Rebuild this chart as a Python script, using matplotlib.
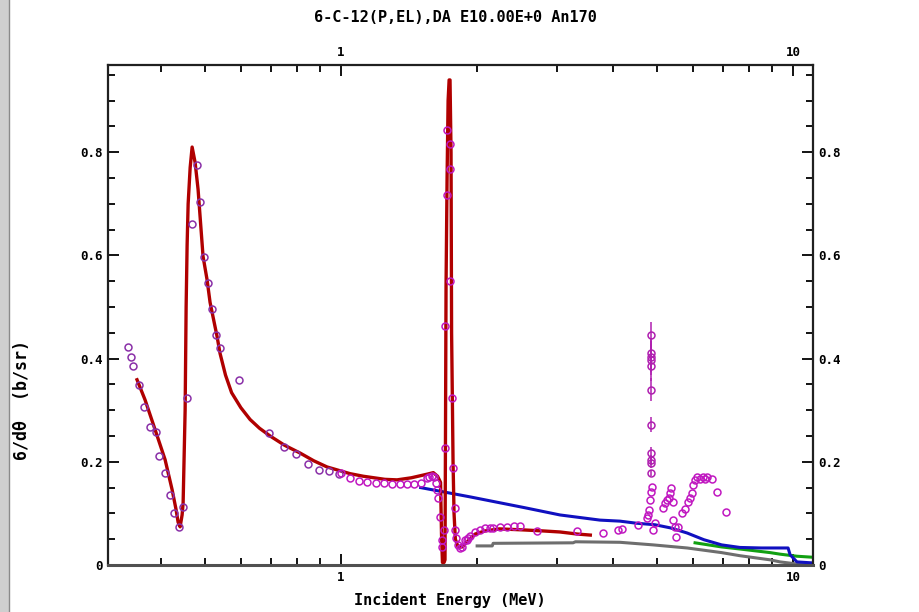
import matplotlib
matplotlib.use("Agg")
import matplotlib.pyplot as plt
from matplotlib.ticker import LogLocator, MultipleLocator, FuncFormatter, NullFormatter
from matplotlib.patches import Rectangle

# evaluated curves (energy in MeV, cross section b/sr)
red_e = [0.3536, 0.3684, 0.3878, 0.408, 0.4228, 0.4315, 0.4359, 0.4404, 0.4449, 0.4472,
         0.4518, 0.4541, 0.4564, 0.4588, 0.4635, 0.4682, 0.4754, 0.4826, 0.490, 0.495,
         0.5052, 0.513, 0.5316, 0.5398, 0.555, 0.5725, 0.60, 0.629, 0.66, 0.6966, 0.75,
         0.8114, 0.87, 0.931, 1.047,
         1.12, 1.25, 1.33, 1.43, 1.55, 1.60, 1.635, 1.660, 1.668, 1.676, 1.690, 1.698,
         1.703, 1.707, 1.716, 1.725, 1.734, 1.742, 1.751, 1.756, 1.764, 1.769, 1.778,
         1.790, 1.815, 1.853, 1.90, 1.98, 2.08, 2.24, 2.53, 2.8, 3.05, 3.33, 3.56]
red_y = [0.359, 0.320, 0.262, 0.204, 0.146, 0.107, 0.083, 0.074, 0.097, 0.120,
         0.300, 0.500, 0.620, 0.700, 0.770, 0.810, 0.780, 0.728, 0.650, 0.598,
         0.553, 0.509, 0.443, 0.410, 0.368, 0.334, 0.305, 0.282, 0.265, 0.250, 0.232,
         0.217, 0.202, 0.190, 0.177,
         0.172, 0.166, 0.165, 0.169, 0.176, 0.179, 0.172, 0.160, 0.060, 0.005, 0.005, 0.010,
         0.300, 0.540, 0.750, 0.900, 0.940, 0.940, 0.800, 0.450, 0.300, 0.200, 0.100,
         0.050, 0.035, 0.035, 0.045, 0.060, 0.066, 0.070, 0.068, 0.066, 0.064, 0.060, 0.058]

blue_e = [1.50, 1.93, 2.55, 3.05, 3.74, 4.14, 4.5, 4.95, 5.35, 5.83, 6.35, 6.95, 7.63,
          8.5, 9.2, 9.75, 9.85, 10.2, 11.07]
blue_y = [0.150, 0.132, 0.111, 0.097, 0.087, 0.085, 0.081, 0.078, 0.072, 0.062, 0.049,
          0.039, 0.034, 0.033, 0.033, 0.033, 0.020, 0.006, 0.004]

gray_e = [2.00, 2.16, 2.17, 3.26, 3.30, 4.14, 4.9, 5.83, 6.95, 7.63, 8.9, 9.36, 10.2, 11.07]
gray_y = [0.037, 0.037, 0.042, 0.043, 0.045, 0.044, 0.039, 0.033, 0.024, 0.018, 0.010,
          0.006, 0.002, 0.000]

green_e = [6.07, 6.95, 7.63, 8.9, 9.36, 10.2, 11.07]
green_y = [0.043, 0.035, 0.031, 0.024, 0.021, 0.017, 0.015]

# experimental points
low_e = [0.338, 0.343, 0.3465, 0.3573, 0.3665, 0.378, 0.3898, 0.3958, 0.408, 0.4185,
         0.4271, 0.4382, 0.4472, 0.4564, 0.4682, 0.480, 0.4876, 0.4976, 0.5078, 0.518,
         0.529, 0.5398, 0.5944, 0.6929, 0.748, 0.7949, 0.8453, 0.8939, 0.9407, 0.990]
low_y = [0.423, 0.404, 0.386, 0.348, 0.307, 0.268, 0.258, 0.212, 0.179, 0.136,
         0.101, 0.074, 0.113, 0.324, 0.660, 0.775, 0.703, 0.596, 0.546, 0.497,
         0.445, 0.421, 0.359, 0.256, 0.229, 0.216, 0.196, 0.184, 0.183, 0.177]

high_e = [1.0, 1.047, 1.096, 1.142, 1.195, 1.245, 1.297, 1.35, 1.399, 1.45, 1.503,
          1.549, 1.565, 1.589, 1.606, 1.623, 1.631, 1.639, 1.656, 1.690, 1.673, 1.673,
          1.716, 1.742, 1.742, 1.716, 1.742, 1.698, 1.76, 1.698, 1.769,
          1.787, 1.787, 1.796, 1.815, 1.853, 1.881, 1.91,
          1.834, 1.90, 1.93, 1.979, 2.03, 2.083, 2.137, 2.17, 2.248, 2.329, 2.41, 2.489,
          2.714, 3.328, 3.798, 4.102, 4.185, 4.541,
          4.753, 4.777, 4.80, 4.827, 4.851, 4.876, 4.90, 4.95,
          5.157, 5.21, 5.263, 5.317, 5.344, 5.372, 5.427, 5.427, 5.483, 5.511, 5.568,
          5.681, 5.768, 5.857, 5.917, 5.977, 6.008, 6.070, 6.132, 6.226, 6.323, 6.387,
          6.452, 6.619, 6.790, 7.108]
high_y = [0.179, 0.169, 0.163, 0.161, 0.159, 0.159, 0.157, 0.157, 0.157, 0.157, 0.159,
          0.169, 0.171, 0.173, 0.171, 0.159, 0.146, 0.130, 0.093, 0.068, 0.049, 0.035,
          0.843, 0.816, 0.767, 0.718, 0.551, 0.464, 0.324, 0.227, 0.188,
          0.111, 0.068, 0.052, 0.039, 0.035, 0.049, 0.052,
          0.033, 0.049, 0.056, 0.064, 0.068, 0.072, 0.072, 0.072, 0.074, 0.074, 0.075, 0.076,
          0.066, 0.066, 0.062, 0.068, 0.070, 0.078,
          0.091, 0.097, 0.107, 0.126, 0.142, 0.151, 0.068, 0.082,
          0.111, 0.120, 0.126, 0.130, 0.140, 0.150, 0.122, 0.087, 0.074, 0.054, 0.074,
          0.101, 0.109, 0.122, 0.130, 0.140, 0.155, 0.165, 0.171, 0.167, 0.171, 0.167,
          0.171, 0.167, 0.142, 0.103]

# column with error bars near 4.85 MeV
col_e = [4.851, 4.851, 4.851, 4.851, 4.851, 4.851, 4.851, 4.851, 4.851, 4.851, 4.851]
col_y = [0.445, 0.410, 0.404, 0.398, 0.386, 0.340, 0.272, 0.217, 0.204, 0.198, 0.179]
col_err = [0.025, 0.030, 0.030, 0.030, 0.030, 0.022, 0.015, 0.012, 0.010, 0.010, 0.006]

plt.rcParams['font.family'] = ['DejaVu Sans Mono', 'DejaVu Sans']
plt.rcParams['font.weight'] = 'bold'

fig = plt.figure(figsize=(9.2, 6.12), dpi=100)
fig.patch.set_facecolor('white')
ax = fig.add_axes([108 / 920, 47 / 612, 705 / 920, 500 / 612])

# window frame strip on the left
fig.patches.append(Rectangle((0, 0), 9 / 920, 1, transform=fig.transFigure,
                             facecolor='#cfcfcf', edgecolor='none'))
fig.lines.append(plt.Line2D([9 / 920, 9 / 920], [0, 1], transform=fig.transFigure,
                            color='#8a8a8a', lw=1))

ax.plot(gray_e, gray_y, color='#6e6e6e', lw=2.2, zorder=2)
ax.plot(green_e, green_y, color='#12a012', lw=2.2, zorder=2)
ax.plot(blue_e, blue_y, color='#1010c0', lw=2.2, zorder=2)
ax.plot(red_e, red_y, color='#b00000', lw=2.4, zorder=3)

ax.errorbar(col_e, col_y, yerr=col_err, fmt='o', ms=5, mfc='none', mec='#b020b0',
            mew=1.1, ecolor='#b020b0', elinewidth=1.1, capsize=0, zorder=4)
ax.plot(low_e, low_y, 'o', ms=5, mfc='none', mec='#8a30a8', mew=1.1, zorder=4)
ax.plot(high_e, high_y, 'o', ms=5, mfc='none', mec='#c018c0', mew=1.1, zorder=4)

ax.set_xscale('log')
ax.set_xlim(0.305, 11.07)
ax.set_ylim(0, 0.969)

ax.xaxis.set_major_locator(LogLocator(base=10))
ax.xaxis.set_minor_locator(LogLocator(base=10, subs=range(2, 10)))
ax.xaxis.set_major_formatter(FuncFormatter(lambda v, p: '%g' % v))
ax.xaxis.set_minor_formatter(NullFormatter())
ax.yaxis.set_major_locator(MultipleLocator(0.2))
ax.yaxis.set_minor_locator(MultipleLocator(0.05))
ax.yaxis.set_major_formatter(FuncFormatter(lambda v, p: '0' if abs(v) < 1e-9 else '%.1f' % v))

ax.tick_params(which='both', direction='in', top=True, right=True,
               labeltop=True, labelright=True, width=1.3, colors='black',
               labelsize=9)
ax.tick_params(which='major', length=8, pad=4)
ax.tick_params(which='minor', length=5)
for sp in ax.spines.values():
    sp.set_linewidth(1.6)
    sp.set_color('#202020')
ax.spines['bottom'].set_color('#505050')
ax.spines['bottom'].set_linewidth(2.2)

fig.text(455 / 920, 1 - 18 / 612, '6-C-12(P,EL),DA E10.00E+0 An170',
         ha='center', va='center', fontsize=11, fontweight='bold')
fig.text(450 / 920, 1 - 600 / 612, 'Incident Energy (MeV)',
         ha='center', va='center', fontsize=11, fontweight='bold')
fig.text(22 / 920, 1 - 400 / 612, '6/dθ  (b/sr)', rotation=90,
         ha='center', va='center', fontsize=12, fontweight='bold')

fig.savefig('out.png', dpi=100, facecolor='white')
